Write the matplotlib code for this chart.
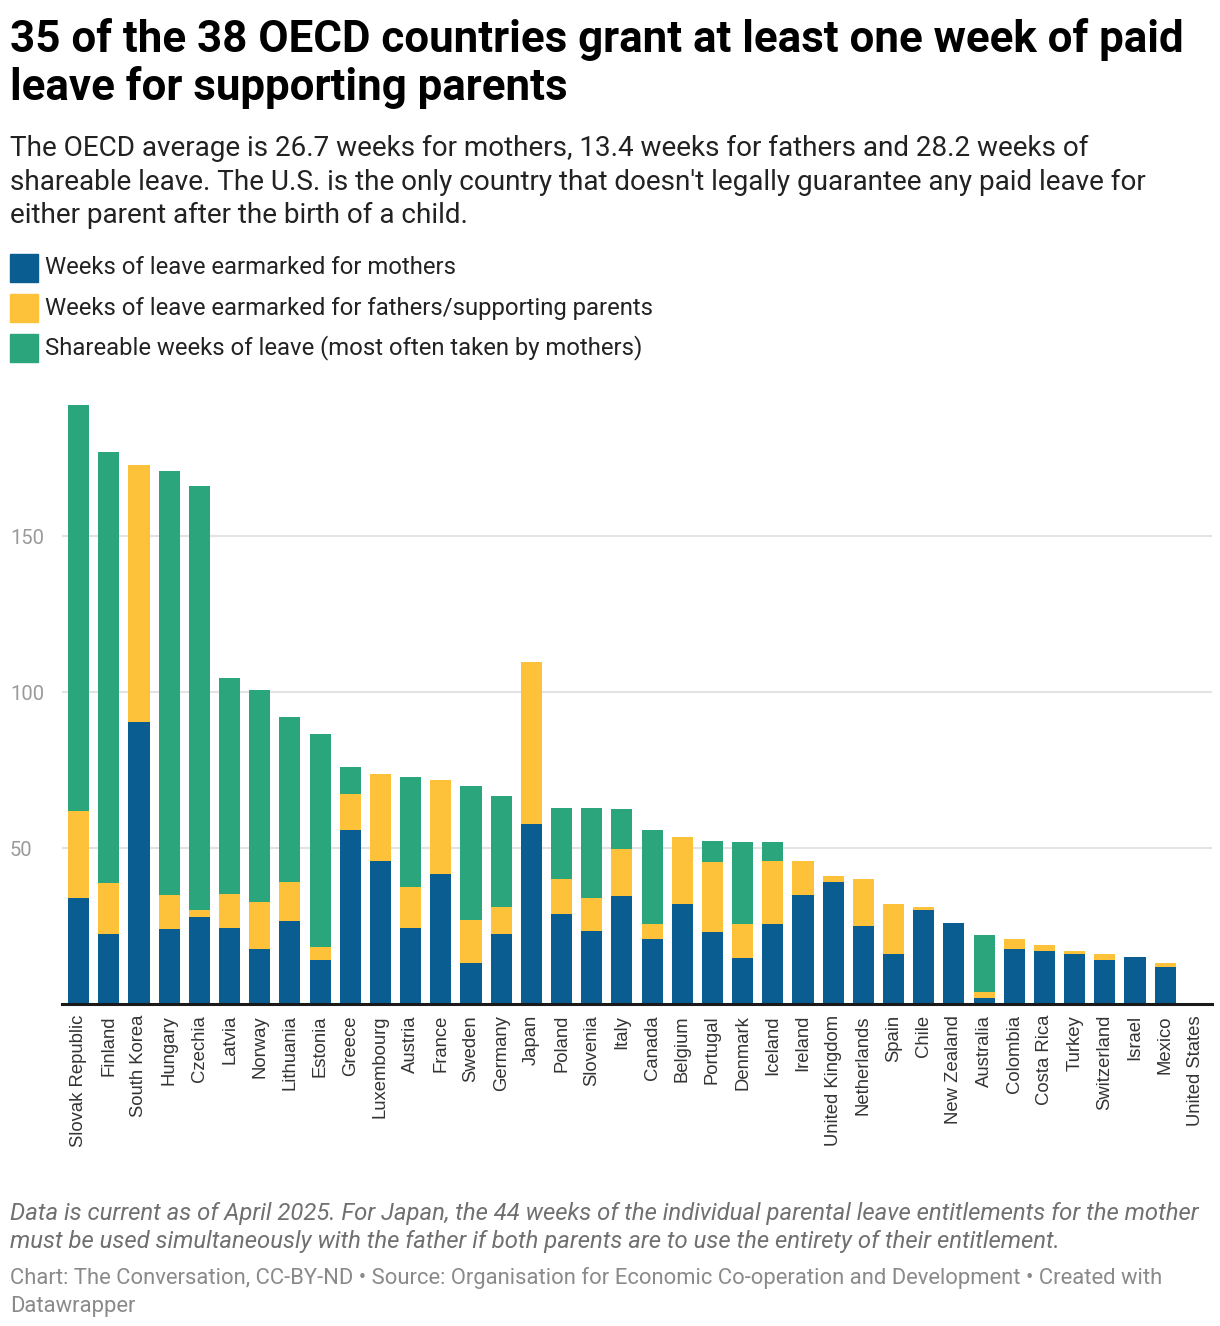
import matplotlib.pyplot as plt
import matplotlib.patches as mpatches
import numpy as np

# Data (weeks)
countries = ['Slovak Republic', 'Finland', 'South Korea', 'Hungary', 'Czechia', 'Latvia',
             'Norway', 'Lithuania', 'Estonia', 'Greece', 'Luxembourg', 'Austria', 'France',
             'Sweden', 'Germany', 'Japan', 'Poland', 'Slovenia', 'Italy', 'Canada', 'Belgium',
             'Portugal', 'Denmark', 'Iceland', 'Ireland', 'United Kingdom', 'Netherlands',
             'Spain', 'Chile', 'New Zealand', 'Australia', 'Colombia', 'Costa Rica', 'Turkey',
             'Switzerland', 'Israel', 'Mexico', 'United States']
mothers = [34, 22.4, 90.6, 24, 28, 24.3, 17.7, 26.6, 14, 55.7, 45.8, 24.3, 41.6,
           13, 22.6, 57.7, 29, 23.5, 34.7, 21, 32.1, 23.2, 14.9, 25.7, 35, 39,
           24.9, 16, 30, 26, 1.8, 17.8, 17.1, 16, 14, 15, 12, 0]
fathers = [28, 16.3, 82.3, 11, 2, 10.9, 15, 12.5, 4.2, 11.6, 27.9, 13.2, 30.4,
           14, 8.6, 52, 11, 10.5, 15, 4.8, 21.4, 22.3, 10.8, 20.2, 10.9, 1.9,
           15.1, 16, 1, 0, 2.2, 2.9, 1.7, 1, 2, 0, 1, 0]
shared = [130, 138.4, 0, 136, 136, 69.2, 68, 52.8, 68.3, 8.6, 0, 35.2, 0,
          42.8, 35.4, 0, 23, 28.8, 12.7, 30, 0, 6.7, 26.2, 6, 0, 0,
          0, 0, 0, 0, 18, 0, 0, 0, 0, 0, 0, 0]

series_labels = ['Weeks of leave earmarked for mothers',
                 'Weeks of leave earmarked for fathers/supporting parents',
                 'Shareable weeks of leave (most often taken by mothers)']
colors = ['#0a5d91', '#fec23a', '#2ba57b']

W, H = 1220, 1326
fig = plt.figure(figsize=(W / 100, H / 100), dpi=100)

def fy(y):
    return 1 - y / H

def fx(x):
    return x / W

# Axes placement in pixels
ax_left, ax_right, ax_top, ax_bottom = 62, 1212, 396, 1004
ax = fig.add_axes([fx(ax_left), fy(ax_bottom), fx(ax_right - ax_left), (ax_bottom - ax_top) / H])

x = np.arange(len(countries))
mothers = np.array(mothers)
fathers = np.array(fathers)
shared = np.array(shared)
ax.bar(x, mothers, width=0.7, color=colors[0], zorder=3)
ax.bar(x, fathers, width=0.7, bottom=mothers, color=colors[1], zorder=3)
ax.bar(x, shared, width=0.7, bottom=mothers + fathers, color=colors[2], zorder=3)

ax.set_xlim(-0.55, len(countries) - 0.45)
ax.set_ylim(0, 195)
ax.set_yticks([50, 100, 150])
ax.yaxis.grid(True, color='#e3e3e3', linewidth=1.5, zorder=0)
for s in ['top', 'right', 'left']:
    ax.spines[s].set_visible(False)
ax.spines['bottom'].set_color('#1a1a1a')
ax.spines['bottom'].set_linewidth(2.2)
ax.spines['bottom'].set_zorder(4)
ax.tick_params(axis='y', length=0, labelsize=14.5, labelcolor='#9a9a9a', pad=0)
for lab in ax.get_yticklabels():
    lab.set_fontfamily('Roboto')
    lab.set_horizontalalignment('left')
    lab.set_x(-(ax_left - 10) / (ax_right - ax_left))
ax.set_xticks(x)
ax.set_xticklabels(countries, rotation=90, fontsize=13.3, color='#333333',
                   fontfamily='Liberation Sans', va='top', ha='center')
ax.tick_params(axis='x', length=0, pad=8)

# Title
title_lines = ['35 of the 38 OECD countries grant at least one week of paid',
               'leave for supporting parents']
for i, line in enumerate(title_lines):
    fig.text(fx(10), fy(52 + 48 * i), line, fontsize=31.6, fontweight='bold',
             fontfamily='Roboto', color='#000000', va='baseline')

sub_lines = ['The OECD average is 26.7 weeks for mothers, 13.4 weeks for fathers and 28.2 weeks of',
             "shareable leave. The U.S. is the only country that doesn't legally guarantee any paid leave for",
             'either parent after the birth of a child.']
for i, line in enumerate(sub_lines):
    fig.text(fx(10), fy(156 + 33.5 * i), line, fontsize=20.1, fontfamily='Roboto',
             color='#222222', va='baseline')

# Legend
for i, (lab, c) in enumerate(zip(series_labels, colors)):
    yc = 268 + 40 * i
    fig.patches.append(mpatches.Rectangle((fx(10), fy(yc + 14)), fx(28), 28 / H,
                                          transform=fig.transFigure, color=c))
    fig.text(fx(45), fy(yc), lab, fontsize=17.2, fontfamily='Roboto',
             color='#222222', va='center')

# Notes
note_lines = ['Data is current as of April 2025. For Japan, the 44 weeks of the individual parental leave entitlements for the mother',
              'must be used simultaneously with the father if both parents are to use the entirety of their entitlement.']
for i, line in enumerate(note_lines):
    fig.text(fx(10), fy(1220 + 28 * i), line, fontsize=17.2, fontstyle='italic',
             fontfamily='Roboto', color='#707070', va='baseline')

src_lines = ['Chart: The Conversation, CC-BY-ND \u2022 Source: Organisation for Economic Co-operation and Development \u2022 Created with',
             'Datawrapper']
for i, line in enumerate(src_lines):
    fig.text(fx(10), fy(1284 + 28 * i), line, fontsize=15.8, fontfamily='Roboto',
             color='#8a8a8a', va='baseline')

fig.savefig('out.png', dpi=100, facecolor='white')
